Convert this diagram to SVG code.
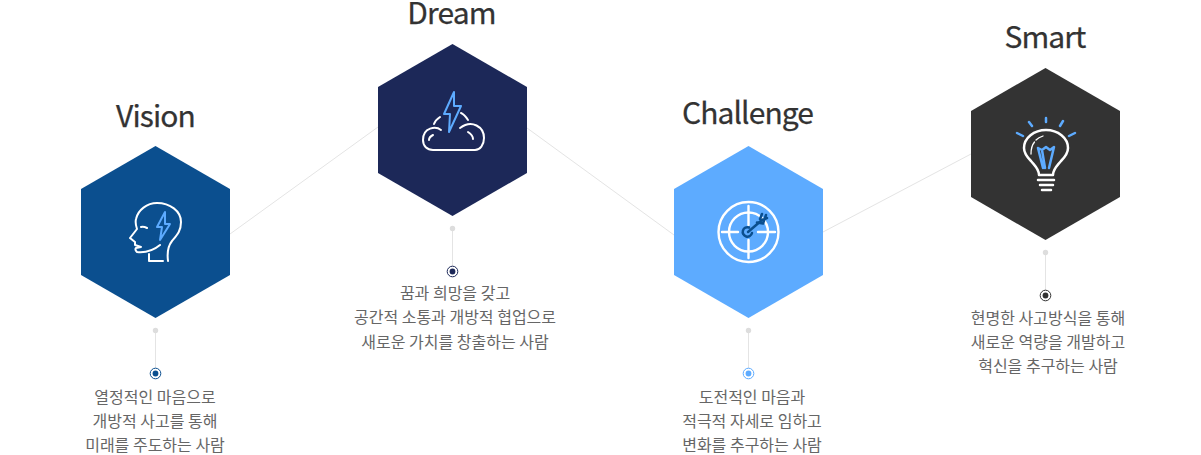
<svg xmlns="http://www.w3.org/2000/svg" width="1201" height="455" viewBox="0 0 1201 455">
<style>
.t{font-family:"Noto Sans CJK KR","Noto Sans",sans-serif;font-size:30px;fill:#333;stroke:#333;stroke-width:.25;text-anchor:middle;letter-spacing:-.9px}
.d{font-family:"Noto Sans CJK KR","Noto Sans",sans-serif;font-size:16px;fill:#666;text-anchor:middle}
.w{fill:none;stroke:#fff;stroke-width:2;stroke-linecap:round;stroke-linejoin:round}
.b{fill:none;stroke:#5dabff;stroke-width:2;stroke-linecap:round;stroke-linejoin:round}
.c{stroke:#e4e4e4;stroke-width:1;fill:none}
.k{fill:#ddd}
</style>
<rect width="1201" height="455" fill="#fff"/>
<g id="connectors">
<path class="c" d="M230 234L378 127M527 128L674 235M823 232L971 154"/>
<path class="c" d="M155.500 330V368M452.500 228V266M748.500 330V368M1045.500 252V290"/>
<circle class="k" cx="155.500" cy="330.500" r="2.700"/><circle class="k" cx="452.500" cy="228.500" r="2.700"/><circle class="k" cx="748.500" cy="330.500" r="2.700"/><circle class="k" cx="1045.500" cy="252.500" r="2.700"/>
</g>
<g id="vision">
<text class="t" x="155.500" y="127">Vision</text>
<polygon points="155.500,146 230,189 230,275 155.500,318 81,275 81,189" fill="#0b4f8f"/>
<path class="w" d="M160 245C154 250 147 253 137 252C135 250 135 249 136 248L141 247L135 245L135 242L130 238L137 229C136 226 135 223 136 219C138 210 147 203 157 203C170 203 181 211 181 222C181 231 177 235 172 241C168 246 167 253 168 261M163 261H149V254M141 227C143 226.500 145 227 147 228"/>
<path class="b" d="M165 212L157 227H162L160 240L170 224H165Z"/>
<circle cx="155.500" cy="373.500" r="5.300" fill="#fff" stroke="#0b4f8f" stroke-width="1"/><circle cx="155.500" cy="373.500" r="2.900" fill="#0b4f8f"/>
<text class="d" x="155" y="403">열정적인 마음으로</text><text class="d" x="155" y="427">개방적 사고를 통해</text><text class="d" x="155" y="451">미래를 주도하는 사람</text>
</g>
<g id="dream">
<text class="t" x="451.500" y="24">Dream</text>
<polygon points="452.500,44 527,87 527,173 452.500,216 378,173 378,87" fill="#1c2858"/>
<path class="w" d="M441 130C436 126 423 127 423 140C423 146 427 150 433 150H475C480 150 484 145 484 138C484 127 472 119 460 128M429 140C429 138 431 136 433 135M468 132C471 134 473 136 473 139M434 124C435 121 437 119 440 117M461 113C464 114 466 117 468 120"/>
<path class="b" d="M454 92L444 114H450L449 132L461 106H454Z"/>
<circle cx="452.500" cy="271.500" r="5.300" fill="#fff" stroke="#1c2858" stroke-width="1"/><circle cx="452.500" cy="271.500" r="2.900" fill="#1c2858"/>
<text class="d" x="455" y="299">꿈과 희망을 갖고</text><text class="d" x="455" y="323">공간적 소통과 개방적 협업으로</text><text class="d" x="455" y="348">새로운 가치를 창출하는 사람</text>
</g>
<g id="challenge">
<text class="t" x="747.500" y="124">Challenge</text>
<polygon points="748.500,146 823,189 823,275 748.500,318 674,275 674,189" fill="#5dabff"/>
<g class="w" style="stroke-width:2.400"><circle cx="748.500" cy="232" r="30"/><circle cx="748.500" cy="232" r="19.500"/><path d="M748.500 206V225M748.500 240V258M722 232H738M758 232H775"/></g>
<g fill="none" stroke="#0b4f8f" stroke-width="2.500" stroke-linecap="round" stroke-linejoin="round"><path d="M748 232L762 220M749 227.500A4.700 4.700 0 1 0 752 233"/><path d="M760 219L762 214M762 220L767 218M757 222.500L763 223.500L766 215"/></g>
<circle cx="748.500" cy="373.500" r="5.300" fill="#fff" stroke="#5dabff" stroke-width="1"/><circle cx="748.500" cy="373.500" r="2.900" fill="#5dabff"/>
<text class="d" x="752" y="403">도전적인 마음과</text><text class="d" x="752" y="427">적극적 자세로 임하고</text><text class="d" x="752" y="451">변화를 추구하는 사람</text>
</g>
<g id="smart">
<text class="t" x="1045" y="48">Smart</text>
<polygon points="1045.500,68 1120,111 1120,197 1045.500,240 971,197 971,111" fill="#333"/>
<g class="w" style="stroke-width:2.500"><path d="M1039 175C1039 169 1035 166 1031 161C1027 157 1024 153 1024 148C1024 138 1034 130 1046 130C1058 130 1068 138 1068 148C1068 153 1065 157 1061 161C1057 166 1053 169 1053 175ZM1038 180H1054M1040 185H1053M1042 190H1051"/><path d="M1031 154C1031 149 1032 145 1034.500 142" stroke-width="1.300"/><path d="M1036 140C1038 138 1040 137 1043 136" stroke-width="1.300"/></g>
<g class="b" style="stroke-width:2.500"><path d="M1046 118V122M1029 122L1032 126M1017 133L1023 136M1063 121L1060 126M1075 133L1069 136"/><path d="M1038 148L1042 150L1046 147L1050 150L1054 147L1049 168M1038 148L1043 168M1042 150L1045 168"/></g>
<circle cx="1045.500" cy="295.500" r="5.300" fill="#fff" stroke="#333" stroke-width="1"/><circle cx="1045.500" cy="295.500" r="2.900" fill="#333"/>
<text class="d" x="1048" y="324">현명한 사고방식을 통해</text><text class="d" x="1048" y="348">새로운 역량을 개발하고</text><text class="d" x="1048" y="372">혁신을 추구하는 사람</text>
</g>
</svg>
